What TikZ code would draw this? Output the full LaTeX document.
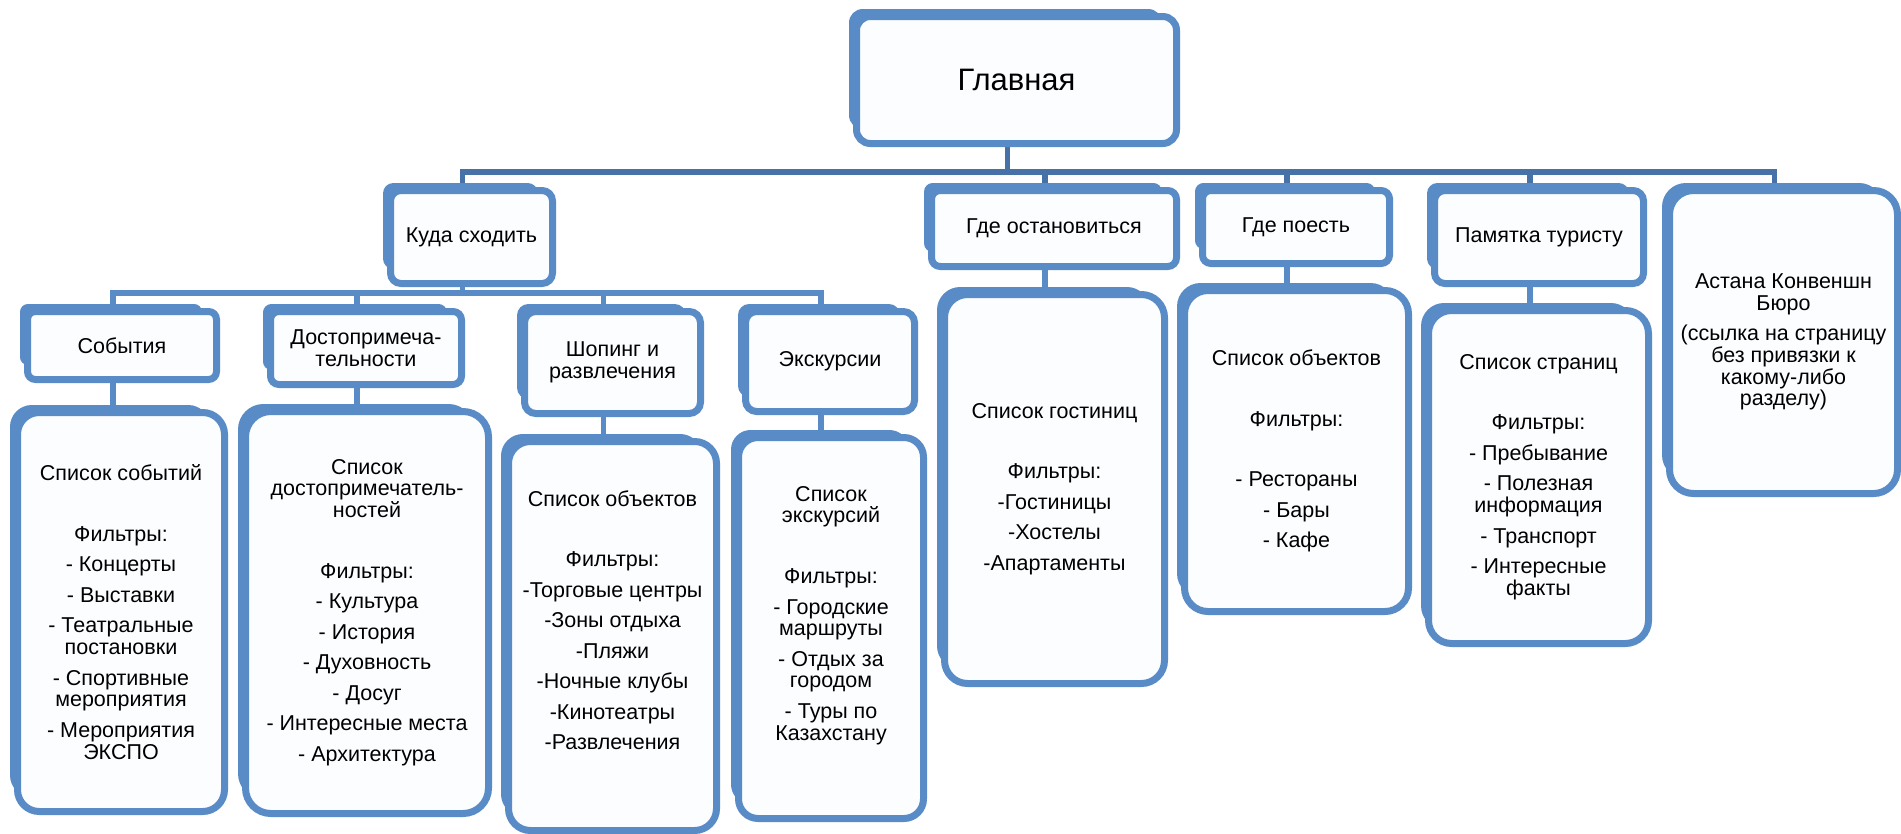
\documentclass[tikz,border=0pt]{standalone}
\usepackage{fontspec}
\setmainfont{Liberation Sans}
\pgfdeclarelayer{bg}
\pgfsetlayers{bg,main}
\definecolor{boxblue}{RGB}{89,139,199}
\definecolor{topblue}{RGB}{70,114,168}
\definecolor{boxfill}{RGB}{251,253,255}
\newcommand\pbr{\\[8.8pt]}
\newcommand\blk{\\[39pt]}
\newcommand\bx[6]{%
  \pgfmathsetmacro\bxr{0.1*min(#4-#2,#5-#3)}%
  \pgfmathsetmacro\bxw{#4-#2-11}%
  \pgfmathsetmacro\bxh{#5-#3-11}%
  \fill[boxblue, rounded corners=\bxr pt] (#2,#3) rectangle ({#4-18},{#5-18});
  \node[box, rounded corners=\bxr pt, minimum width=\bxw pt, minimum height=\bxh pt] (#1) at ({(#2+#4)/2+2},{(#3+#5)/2+2}) {#6};
}
\tikzset{
  box/.style={draw=boxblue, line width=7pt, fill=boxfill, align=center, inner sep=0pt,
    font=\fontsize{21.5}{21.7}\selectfont},
  conn/.style={draw=boxblue, line width=5.5pt, line cap=rect},
  topconn/.style={draw=topblue, line width=5.5pt, line cap=rect}
}
\begin{document}
\begin{tikzpicture}[x=1pt,y=-1pt]
\useasboundingbox (0,0) rectangle (1901,833);
\coordinate (t) at (0,172);
\coordinate (s) at (0,293);
% level 1 and 2
\bx{glav}{849}{9}{1180}{147}{\fontsize{31}{33}\selectfont Главная}
\bx{kuda}{383}{183}{556}{287}{Куда сходить}
\bx{ost}{924}{183}{1180}{270}{Где остановиться}
\bx{poest}{1195}{183}{1393}{267}{Где поесть}
\bx{pam}{1427}{183}{1647}{287}{Памятка туристу}
\bx{ast}{1662}{183}{1901}{497}{Астана Конвеншн\\Бюро\pbr(ссылка на страницу\\без привязки к\\какому-либо\\разделу)}
% level 3
\bx{sob}{20}{304}{220}{383}{События}
\bx{dost}{263}{304}{465}{388}{Достопримеча-\\тельности}
\bx{shop}{517}{304}{704}{417}{Шопинг и\\развлечения}
\bx{exk}{738}{304}{918}{415}{Экскурсии}
% level 4
\bx{lsob}{10}{405}{228}{815}{Список событий\blk Фильтры:\pbr- Концерты\pbr- Выставки\pbr- Театральные\\постановки\pbr- Спортивные\\мероприятия\pbr- Мероприятия\\ЭКСПО}
\bx{ldost}{238}{404}{492}{817}{Список\\достопримечатель-\\ностей\blk Фильтры:\pbr- Культура\pbr- История\pbr- Духовность\pbr- Досуг\pbr- Интересные места\pbr- Архитектура}
\bx{lshop}{501}{434}{720}{834}{Список объектов\blk Фильтры:\pbr-Торговые центры\pbr-Зоны отдыха\pbr-Пляжи\pbr-Ночные клубы\pbr-Кинотеатры\pbr-Развлечения\\[10pt]~}
\bx{lexk}{731}{430}{927}{822}{Список\\экскурсий\blk Фильтры:\pbr- Городские\\маршруты\pbr- Отдых за\\городом\pbr- Туры по\\Казахстану\\[8pt]~}
\bx{lgost}{937}{287}{1168}{687}{Список гостиниц\blk Фильтры:\pbr-Гостиницы\pbr-Хостелы\pbr-Апартаменты}
\bx{lpoest}{1177}{283}{1412}{615}{Список объектов\blk Фильтры:\blk - Рестораны\pbr- Бары\pbr- Кафе}
\bx{lpam}{1421}{303}{1652}{647}{Список страниц\blk Фильтры:\pbr- Пребывание\pbr- Полезная\\информация\pbr- Транспорт\pbr- Интересные\\факты}
% connectors
\begin{pgfonlayer}{bg}
\fill[white] (0,0) rectangle (1901,833);
\draw[topconn] ([xshift=-9pt]glav.south) -- ([xshift=-9pt]glav.south |- t);
\draw[topconn] ([xshift=-9pt]kuda.north |- t) -- ([xshift=-9pt]ast.north |- t);
\foreach \c in {kuda,ost,poest,pam,ast}
  \draw[topconn] ([xshift=-9pt]\c.north |- t) -- ([xshift=-9pt]\c.north);
\draw[conn] ([xshift=-9pt]kuda.south) -- ([xshift=-9pt]kuda.south |- s);
\draw[conn] ([xshift=-9pt]sob.north |- s) -- ([xshift=-9pt]exk.north |- s);
\foreach \c in {sob,dost,shop,exk}
  \draw[conn] ([xshift=-9pt]\c.north |- s) -- ([xshift=-9pt]\c.north);
\draw[conn] ([xshift=-9pt]sob.south) -- ([xshift=-9pt]sob.south |- lsob.north);
\draw[conn] ([xshift=-9pt]dost.south) -- ([xshift=-9pt]dost.south |- ldost.north);
\draw[conn] ([xshift=-9pt]shop.south) -- ([xshift=-9pt]shop.south |- lshop.north);
\draw[conn] ([xshift=-9pt]exk.south) -- ([xshift=-9pt]exk.south |- lexk.north);
\draw[conn] ([xshift=-9pt]ost.south) -- ([xshift=-9pt]ost.south |- lgost.north);
\draw[conn] ([xshift=-9pt]poest.south) -- ([xshift=-9pt]poest.south |- lpoest.north);
\draw[conn] ([xshift=-9pt]pam.south) -- ([xshift=-9pt]pam.south |- lpam.north);
\end{pgfonlayer}
\end{tikzpicture}
\end{document}
